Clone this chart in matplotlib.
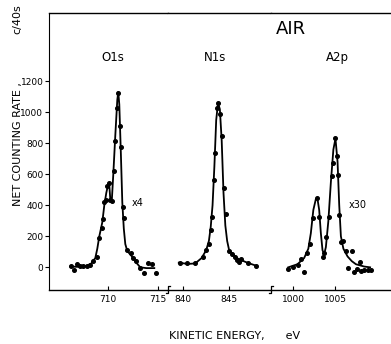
import matplotlib.pyplot as plt

# measured points (eV, counts / 40 s)
o1s_e = [706.27, 706.57, 706.9, 707.17, 707.5, 707.84, 708.17, 708.5, 708.84, 709.07,
         709.34, 709.5, 709.57, 709.77, 709.9, 710.07, 710.17, 710.34, 710.54, 710.67,
         710.84, 711.0, 711.17, 711.24, 711.44, 711.57, 711.84, 712.24, 712.44, 712.74,
         713.17, 713.57, 714.0, 714.34, 714.74]
o1s_v = [10, -17, 21, 10, 8, 10, 15, 40, 68, 187,
         251, 309, 423, 434, 524, 541, 434, 427, 621, 817,
         1025, 1122, 911, 778, 391, 316, 112, 94, 60, 41,
         -6, -35, 26, 21, -35]

n1s_e = [839.6, 840.37, 841.28, 842.12, 842.48, 842.81, 843.0, 843.14, 843.33, 843.47,
         843.65, 843.83, 844.05, 844.2, 844.45, 844.67, 845.03, 845.36, 845.66, 845.9,
         846.13, 846.35, 847.1, 848.0]
n1s_v = [30, 26, 26, 68, 112, 150, 241, 322, 563, 735,
         1025, 1062, 989, 847, 509, 344, 107, 86, 68, 47,
         36, 52, 26, 8]

a2p_e = [999.4, 1000.0, 1000.53, 1000.96, 1001.32, 1001.64, 1002.0, 1002.4, 1002.8, 1003.12,
         1003.52, 1003.68, 1003.92, 1004.24, 1004.64, 1004.8, 1005.0, 1005.24, 1005.4, 1005.52,
         1005.76, 1005.92, 1006.28, 1006.6, 1007.0, 1007.31, 1007.6, 1008.0, 1008.12, 1008.5,
         1008.9, 1009.3]
a2p_v = [-13, 4, 15, 52, -28, 90, 150, 316, 445, 322,
         64, 94, 197, 322, 589, 671, 832, 718, 597, 337,
         165, 172, 107, -6, 107, -28, -13, 36, -22, -17,
         -17, -17]

# hand drawn curves
o1s_ce = [706.2, 707.0, 707.8, 708.3, 708.7, 708.9, 709.1, 709.4, 709.6, 709.8, 710.0, 710.1,
          710.2, 710.35, 710.5, 710.7, 710.9, 711.0, 711.1, 711.25, 711.4, 711.55, 711.7,
          711.9, 712.3, 712.8, 713.2, 713.8, 714.6]
o1s_cv = [5, 3, 8, 25, 60, 120, 200, 290, 400, 480, 540, 530,
          440, 430, 600, 850, 1080, 1130, 1050, 750, 420, 250, 150,
          105, 75, 30, 0, -5, -5]

n1s_ce = [839.5, 840.5, 841.3, 842.0, 842.5, 842.8, 843.0, 843.2, 843.4, 843.6, 843.8, 844.0,
          844.2, 844.4, 844.6, 844.8, 845.0, 845.4, 846.0, 847.0, 848.0]
n1s_cv = [30, 22, 25, 60, 110, 170, 260, 400, 650, 950, 1060, 1020,
          820, 480, 270, 170, 115, 85, 55, 30, 10]

a2p_ce = [999.4, 1000.5, 1001.3, 1001.8, 1002.1, 1002.4, 1002.7, 1002.9, 1003.1, 1003.3,
          1003.5, 1003.7, 1003.9, 1004.2, 1004.5, 1004.8, 1005.05, 1005.3, 1005.5, 1005.7,
          1006.0, 1006.5, 1007.0, 1007.5, 1008.5, 1009.2]
a2p_cv = [0, 20, 60, 120, 220, 370, 440, 440, 370, 220,
          110, 85, 130, 300, 550, 760, 830, 680, 400, 200,
          120, 70, 40, 20, 5, 0]

fig = plt.figure(figsize=(3.91, 3.44), dpi=100)

bot, hgt = 0.1584, 0.8038
ax1 = fig.add_axes([0.1253, bot, 0.3036, hgt])
ax2 = fig.add_axes([0.4289, bot, 0.2642, hgt])
ax3 = fig.add_axes([0.6931, bot, 0.3069, hgt])

panels = [
    (ax1, o1s_e, o1s_v, o1s_ce, o1s_cv, (704.07, 715.94), [710, 715]),
    (ax2, n1s_e, n1s_v, n1s_ce, n1s_cv, (838.29, 849.6), [840, 845]),
    (ax3, a2p_e, a2p_v, a2p_ce, a2p_cv, (997.33, 1011.7), [1000, 1005]),
]

for ax, xe, xv, ce, cv, lim, ticks in panels:
    ax.plot(ce, cv, color='black', lw=1.3)
    ax.plot(xe, xv, 'o', color='black', ms=2.6)
    ax.set_xlim(*lim)
    ax.set_ylim(-143, 1640)
    ax.set_xticks(ticks)
    ax.tick_params(axis='x', direction='in', length=3, labelsize=6.5, pad=4)
    ax.spines['right'].set_visible(False)
    ax.spines['left'].set_visible(False)
    ax.spines['top'].set_linewidth(1.0)
    ax.spines['bottom'].set_linewidth(1.0)
    ax.set_yticks([])

ax1.spines['left'].set_visible(True)
ax1.set_yticks([0, 200, 400, 600, 800, 1000, 1200])
ax1.tick_params(axis='y', direction='out', length=3, labelsize=6.5, pad=1)

# break marks on the energy axis
for ax in (ax2, ax3):
    ax.plot([-0.02, 0.0, 0.0, 0.02], [-0.012, -0.012, 0.012, 0.012],
            transform=ax.transAxes, color='black', lw=0.9, clip_on=False)

ax1.text(0.54, 0.825, 'O1s', transform=ax1.transAxes, ha='center', fontsize=8.5)
ax2.text(0.46, 0.825, 'N1s', transform=ax2.transAxes, ha='center', fontsize=8.5)
ax3.text(0.55, 0.825, 'A2p', transform=ax3.transAxes, ha='center', fontsize=8.5)
ax3.text(0.17, 0.925, 'AIR', transform=ax3.transAxes, ha='center', fontsize=13)
ax1.text(712.3, 395, 'x4', fontsize=7)
ax3.text(1006.6, 380, 'x30', fontsize=7)

fig.text(0.045, 0.58, 'NET COUNTING RATE ,', rotation=90, ha='center', va='center', fontsize=8)
fig.text(0.045, 0.945, 'c/40s', rotation=90, ha='center', va='center', fontsize=8)
fig.text(0.60, 0.023, 'KINETIC ENERGY,      eV', ha='center', va='center', fontsize=8)

fig.savefig('out.png', dpi=100)
